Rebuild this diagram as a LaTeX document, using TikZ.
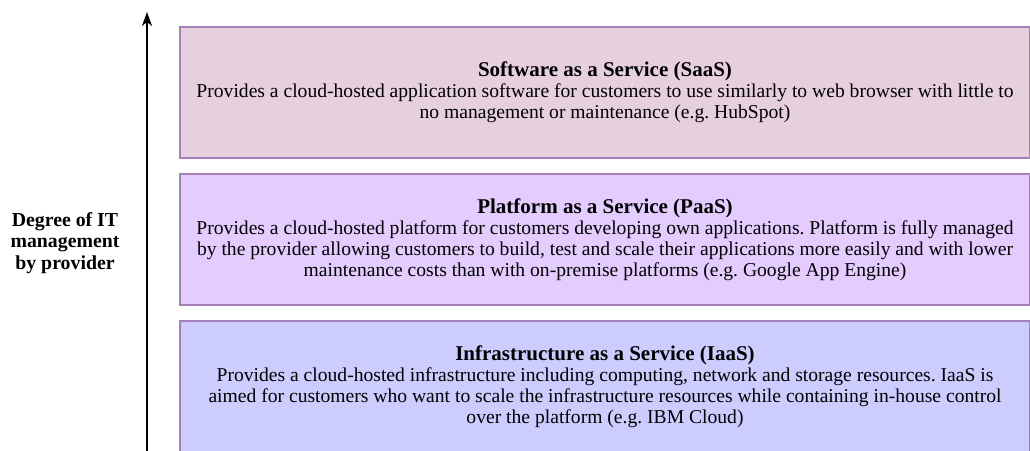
\documentclass[tikz,border=0pt]{standalone}
\usepackage{fontspec}
\setmainfont{Liberation Serif}
\usetikzlibrary{arrows.meta}
\definecolor{saasfill}{HTML}{E6D0DE}
\definecolor{paasfill}{HTML}{E5CCFF}
\definecolor{iaasfill}{HTML}{CCCCFF}
\definecolor{layerline}{HTML}{A680B8}
\newcommand{\layertitle}[1]{{\fontsize{21}{21}\selectfont\bfseries #1}}
\tikzset{
  layer/.style={draw=layerline, line width=1.6pt, rectangle, minimum width=850pt,
    minimum height=131pt, align=center, inner sep=0pt,
    font=\fontsize{19.6}{21}\selectfont\frenchspacing},
  axislabel/.style={align=center, font=\fontsize{19.8}{21.5}\selectfont\bfseries},
  axis/.style={line width=1.8pt, -{Stealth[length=14pt, width=10pt, inset=4pt]}}
}
\begin{document}
\begin{tikzpicture}[x=1pt, y=1pt]
\useasboundingbox (0,0) rectangle (1030,450);
\clip (0,0) rectangle (1030,450);
\fill[white] (0,0) rectangle (1030,450);

% service model layers, top to bottom
\node[layer, fill=saasfill] (saas) at (605,357.5)
  {\layertitle{Software as a Service (SaaS)}\\
   Provides a cloud-hosted application software for customers to use similarly to web browser with little to\\
   no management or maintenance (e.g. HubSpot)};
\node[layer, fill=paasfill] (paas) at (605,210.5)
  {\layertitle{Platform as a Service (PaaS)}\\
   Provides a cloud-hosted platform for customers developing own applications. Platform is fully managed\\
   by the provider allowing customers to build, test and scale their applications more easily and with lower\\
   maintenance costs than with on-premise platforms (e.g. Google App Engine)};
\node[layer, fill=iaasfill] (iaas) at (605,63.5)
  {\layertitle{Infrastructure as a Service (IaaS)}\\
   Provides a cloud-hosted infrastructure including computing, network and storage resources. IaaS is\\
   aimed for customers who want to scale the infrastructure resources while containing in-house control\\
   over the platform (e.g. IBM Cloud)};

% vertical axis
\coordinate (axisfoot) at (147,-5);
\coordinate (axistip) at (147,438);
\draw[axis] (axisfoot) -- (axistip);
\node[axislabel] (axistext) at (65,207) {Degree of IT\\management\\by provider};
\end{tikzpicture}
\end{document}
